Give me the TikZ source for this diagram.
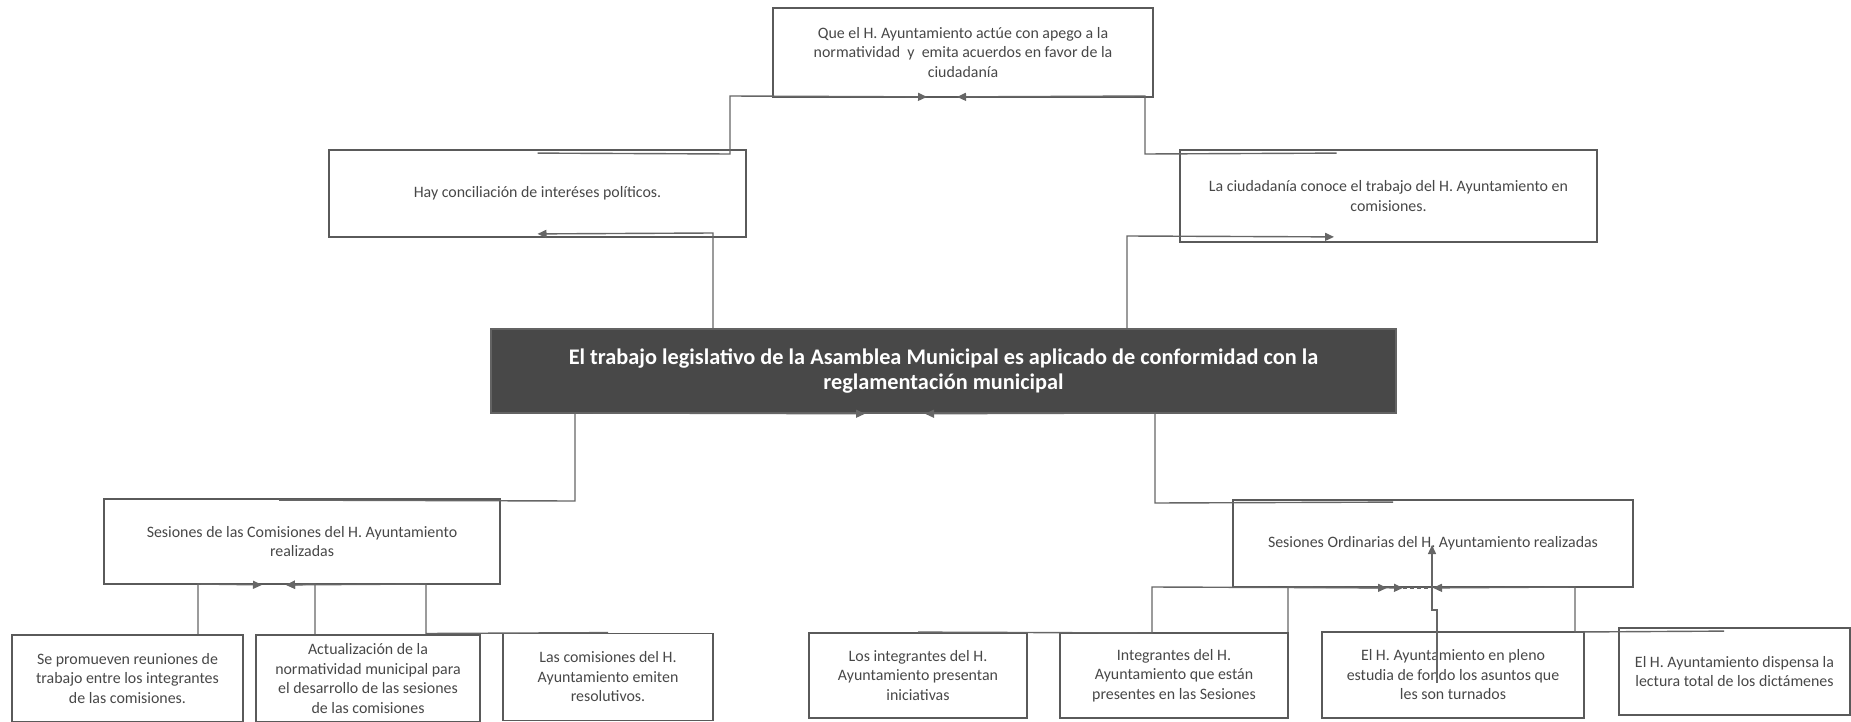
\documentclass[tikz,border=0pt]{standalone}
\usepackage{fontspec}
\setmainfont{Carlito}
\usetikzlibrary{arrows.meta}
\definecolor{linegray}{HTML}{666666}
\definecolor{boxgray}{HTML}{5A5A5A}
\definecolor{txtgray}{HTML}{474747}
\definecolor{darkfill}{HTML}{484848}
\begin{document}
\begin{tikzpicture}[x=1pt,y=-1pt,
  box/.style={draw=boxgray, line width=1.8pt, inner sep=0pt, align=center,
    text=txtgray, font=\fontsize{15.9}{19.5}\selectfont, minimum height=87pt},
  mainbox/.style={draw=darkfill!85, fill=darkfill, line width=1.5pt, inner sep=0pt,
    align=center, text=white, font=\bfseries\fontsize{22.3}{25.5}\selectfont},
  conn/.style={draw=linegray, line width=1.4pt},
  arr/.style={conn, -{Triangle[length=9pt,width=8pt]}}
]
\useasboundingbox (0,0) rectangle (1851,722);

% top level
\node[box, minimum width=380pt, minimum height=89pt] (top) at (963,52.5)
  {Que el H. Ayuntamiento actúe con apego a la\\normatividad\ \ y\ \ emita acuerdos en favor de la\\ciudadanía};
\node[box, minimum width=417pt] (hay) at (537.5,193.5) {Hay conciliación de interéses políticos.};
\node[box, minimum width=417pt, minimum height=92pt] (ciud) at (1388.5,196)
  {La ciudadanía conoce el trabajo del H. Ayuntamiento en\\comisiones.};
\node[mainbox, minimum width=905pt, minimum height=84pt] (center) at (943.5,371)
  {El trabajo legislativo de la Asamblea Municipal es aplicado de conformidad con la\\reglamentación municipal};

% second level
\node[box, minimum width=396pt, minimum height=85pt] (comis) at (302,541.5)
  {Sesiones de las Comisiones del H. Ayuntamiento\\realizadas};
\node[box, minimum width=400pt] (ordin) at (1433,543.5)
  {Sesiones Ordinarias del H. Ayuntamiento realizadas};

% bottom level
\node[box, minimum width=231pt] (c1) at (127.5,678.5)
  {Se promueven reuniones de\\trabajo entre los integrantes\\de las comisiones.};
\node[box, minimum width=224pt] (c2) at (368,678.5)
  {Actualización de la\\normatividad municipal para\\el desarrollo de las sesiones\\de las comisiones};
\node[box, minimum width=210pt] (c3) at (608,677)
  {Las comisiones del H.\\Ayuntamiento emiten\\resolutivos.};
\node[box, minimum width=218pt, minimum height=85pt] (c4) at (918,675.5)
  {Los integrantes del H.\\Ayuntamiento presentan\\iniciativas};
\node[box, minimum width=228pt, minimum height=85pt] (c5) at (1174,675.5)
  {Integrantes del H.\\Ayuntamiento que están\\presentes en las Sesiones};
\node[box, minimum width=262pt, minimum height=86pt] (c6) at (1453,675)
  {El H. Ayuntamiento en pleno\\estudia de fondo los asuntos que\\les son turnados};
\node[box, minimum width=231pt] (c7) at (1734.5,671.5)
  {El H. Ayuntamiento dispensa la\\lectura total de los dictámenes};

% connectors to the top box
\draw[arr] ([yshift=-4pt]hay.north) -- (730,154) -- (730,96) -- ([xshift=-36pt,yshift=1pt]top.south);
\draw[arr] ([xshift=-52pt,yshift=-4pt]ciud.north) -- (1145,154) -- (1145,96) -- ([xshift=-6pt,yshift=1pt]top.south);

% connectors from the centre box
\draw[arr] ([xshift=-230.5pt]center.north) -- (713,233) -- ([yshift=4pt]hay.south);
\draw[arr] ([xshift=183.5pt]center.north) -- (1127,236) -- ([xshift=-54.5pt,yshift=6pt]ciud.south);

% connectors to the centre box
\draw[arr] ([xshift=-23pt,yshift=-2pt]comis.north) -- (575,501) -- (575,413) -- ([xshift=-78.5pt]center.south);
\draw[arr] ([xshift=-40pt,yshift=-3pt]ordin.north) -- (1155,503) -- (1155,413) -- ([xshift=-18.5pt]center.south);

% connectors to Sesiones de las Comisiones
\draw[arr] ([xshift=70.5pt]c1.north) -- (198,584) -- ([xshift=-40pt]comis.south);
\draw[arr] ([xshift=-53pt]c2.north) -- (315,584) -- ([xshift=-16pt]comis.south);
\draw[arr] (c3.north) -- (426,633.5) -- (426,584) -- ([xshift=-16pt]comis.south);

% connectors to Sesiones Ordinarias
\draw[arr] (c4.north) -- (1152,633) -- (1152,587) -- ([xshift=-46pt]ordin.south);
\draw[arr] ([xshift=114pt]c5.north) -- (1288,587) -- ([xshift=-30pt]ordin.south);
\draw[conn, dashed, dash pattern=on 4pt off 3pt] ([xshift=-30pt]ordin.south) -- (ordin.south);
\draw[arr] ([xshift=-16pt,yshift=-8pt]c6.center) -- (1437,610) -- (1432,610) -- ([xshift=-1pt,yshift=-1.5pt]ordin.center);
\draw[arr] ([xshift=-10.5pt,yshift=-4pt]c7.north) -- (1575,632) -- (1575,587) -- (ordin.south);
\end{tikzpicture}
\end{document}
